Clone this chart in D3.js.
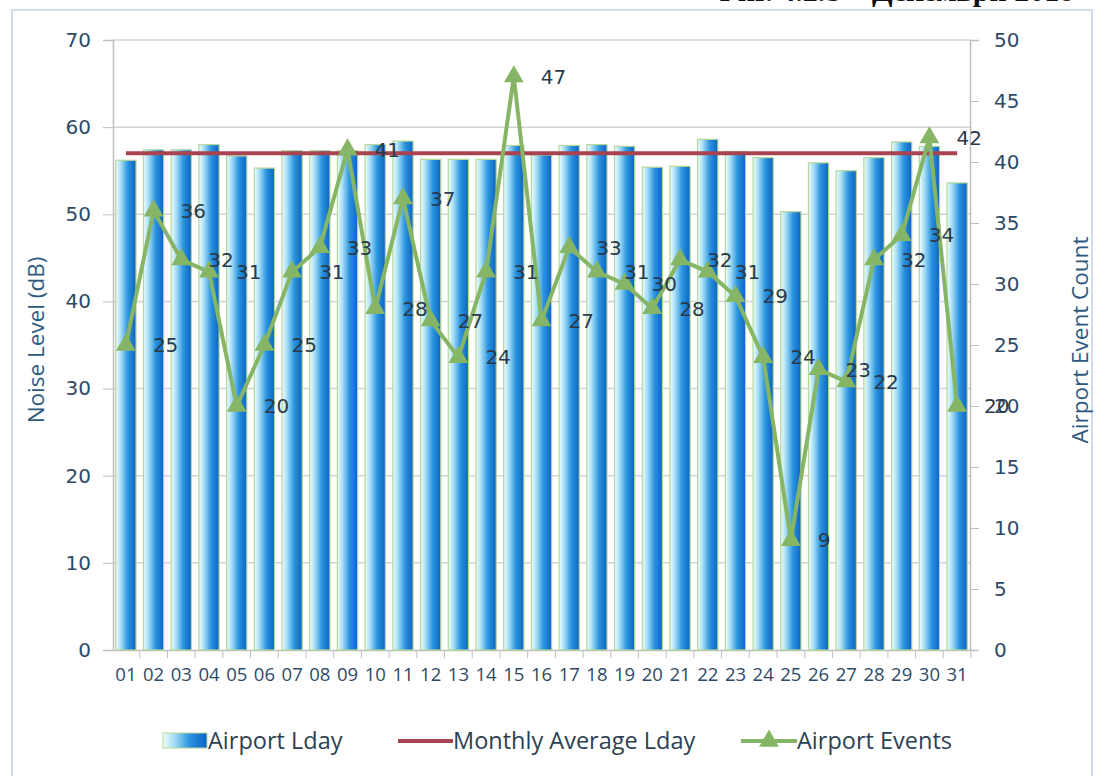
<!DOCTYPE html>
<html>
<head>
<meta charset="utf-8">
<script src="https://cdn.jsdelivr.net/npm/d3@7"></script>
<style>
  body { margin: 0; background: #fff; }
  svg { display: block; }
</style>
</head>
<body>
<div id="chart"></div>
<script>
// days of the month
const days = ["01","02","03","04","05","06","07","08","09","10","11","12","13","14","15","16",
              "17","18","19","20","21","22","23","24","25","26","27","28","29","30","31"];

// Airport Lday (dB), left axis
const lday = [56.2, 57.4, 57.4, 58.0, 56.7, 55.3, 57.3, 57.3, 57.3, 58.0, 58.4, 56.3, 56.3, 56.3, 57.9, 56.8,
              57.9, 58.0, 57.8, 55.4, 55.5, 58.6, 57.2, 56.5, 50.3, 55.9, 55.0, 56.5, 58.3, 57.8, 53.6];

// monthly average Lday (dB)
const monthlyAvg = 57.0;

// airport events, right axis
const events = [25, 36, 32, 31, 20, 25, 31, 33, 41, 28, 37, 27, 24, 31, 47, 27,
                33, 31, 30, 28, 32, 31, 29, 24, 9, 23, 22, 32, 34, 42, 20];

const leftTicks = [0, 10, 20, 30, 40, 50, 60, 70];
const rightTicks = [0, 5, 10, 15, 20, 25, 30, 35, 40, 45, 50];

const W = 1098, H = 776;
const margin = { top: 40, right: 128, bottom: 126, left: 113 };
const width = W - margin.left - margin.right;
const height = H - margin.top - margin.bottom;

const svg = d3.select("#chart").append("svg")
    .attr("width", W)
    .attr("height", H);

// gradient for the bars
const defs = svg.append("defs");
const grad = defs.append("linearGradient")
    .attr("id", "barGrad")
    .attr("x1", "0%").attr("x2", "100%").attr("y1", "0%").attr("y2", "0%");
grad.append("stop").attr("offset", "0%").attr("stop-color", "#f2fdff");
grad.append("stop").attr("offset", "25%").attr("stop-color", "#a6def6");
grad.append("stop").attr("offset", "60%").attr("stop-color", "#2b94df");
grad.append("stop").attr("offset", "100%").attr("stop-color", "#0c63c2");

// outer frame
svg.append("rect")
    .attr("x", 12).attr("y", 10)
    .attr("width", 1080).attr("height", 790)
    .attr("fill", "none")
    .attr("stroke", "#c3d2e2")
    .attr("stroke-width", 1.5);

// figure caption, cut by the top edge
svg.append("text")
    .attr("x", 712)
    .attr("y", 1)
    .attr("font-family", "'Liberation Serif', serif")
    .attr("font-weight", "bold")
    .attr("font-size", 30)
    .attr("fill", "#111")
    .text("Фиг. 4.2.b – Декември 2018");

const g = svg.append("g")
    .attr("transform", "translate(" + margin.left + "," + margin.top + ")");

// scales
const x = d3.scaleBand()
    .domain(days)
    .range([0, width])
    .paddingInner(0.27)
    .paddingOuter(0.1);

const yL = d3.scaleLinear().domain([0, 70]).range([height, 0]);
const yR = d3.scaleLinear().domain([0, 50]).range([height, 0]);

const tickColor = "#2d4a66";
const numFont = "'DejaVu Sans', sans-serif";
const textFont = "'Open Sans', sans-serif";

// gridlines
g.append("g")
    .selectAll("line")
    .data(leftTicks.filter(d => d > 0))
    .enter().append("line")
    .attr("x1", 0).attr("x2", width)
    .attr("y1", d => yL(d)).attr("y2", d => yL(d))
    .attr("stroke", "#d4d4d4")
    .attr("stroke-width", 1.5);

// left axis
const yAxisL = g.append("g")
    .call(d3.axisLeft(yL).tickValues(leftTicks).tickSize(10).tickPadding(12));
yAxisL.select(".domain").attr("stroke", "#bfbfbf").attr("stroke-width", 1.5);
yAxisL.selectAll(".tick line").attr("stroke", "#bfbfbf");
yAxisL.selectAll("text")
    .attr("font-family", numFont)
    .attr("font-size", 20)
    .attr("fill", tickColor);

// right axis
const yAxisR = g.append("g")
    .attr("transform", "translate(" + width + ",0)")
    .call(d3.axisRight(yR).tickValues(rightTicks).tickSize(9).tickPadding(15));
yAxisR.select(".domain").attr("stroke", "#bfbfbf").attr("stroke-width", 1.5);
yAxisR.selectAll(".tick line").attr("stroke", "#bfbfbf");
yAxisR.selectAll("text")
    .attr("font-family", numFont)
    .attr("font-size", 20)
    .attr("fill", tickColor);

// x axis, labels only
const xAxis = g.append("g")
    .attr("transform", "translate(0," + height + ")")
    .call(d3.axisBottom(x).tickSize(0).tickPadding(18));
xAxis.select(".domain").attr("stroke", "#bfbfbf").attr("stroke-width", 1.5);
xAxis.selectAll("text")
    .attr("font-family", textFont)
    .attr("font-size", 18.5)
    .attr("fill", tickColor);

// boundary tick marks between days
const gap = x.step() - x.bandwidth();
g.append("g")
    .selectAll("line")
    .data(days)
    .enter().append("line")
    .attr("x1", d => x(d) + x.bandwidth() + gap / 2)
    .attr("x2", d => x(d) + x.bandwidth() + gap / 2)
    .attr("y1", height).attr("y2", height + 8)
    .attr("stroke", "#bfbfbf");

// bars
g.append("g")
    .selectAll("rect")
    .data(days)
    .enter().append("rect")
    .attr("x", d => x(d))
    .attr("y", (d, i) => yL(lday[i]))
    .attr("width", x.bandwidth())
    .attr("height", (d, i) => height - yL(lday[i]))
    .attr("fill", "url(#barGrad)")
    .attr("stroke", "#b3d89a")
    .attr("stroke-width", 1.2);

// monthly average line
const cx = d => x(d) + x.bandwidth() / 2;
g.append("line")
    .attr("x1", cx(days[0]))
    .attr("x2", cx(days[days.length - 1]))
    .attr("y1", yL(monthlyAvg))
    .attr("y2", yL(monthlyAvg))
    .attr("stroke", "#a9434f")
    .attr("stroke-width", 4);

// events line
const green = "#86b665";
const line = d3.line()
    .x((d, i) => cx(days[i]))
    .y(d => yR(d));

g.append("path")
    .datum(events)
    .attr("d", line)
    .attr("fill", "none")
    .attr("stroke", green)
    .attr("stroke-width", 4)
    .attr("stroke-linejoin", "miter");

const tri = d3.symbol().type(d3.symbolTriangle).size(170);
g.append("g")
    .selectAll("path")
    .data(events)
    .enter().append("path")
    .attr("d", tri)
    .attr("transform", (d, i) => "translate(" + cx(days[i]) + "," + yR(d) + ")")
    .attr("fill", green);

// data labels
g.append("g")
    .selectAll("text")
    .data(events)
    .enter().append("text")
    .attr("x", (d, i) => cx(days[i]) + 27)
    .attr("y", d => yR(d))
    .attr("dy", "0.36em")
    .attr("font-family", numFont)
    .attr("font-size", 20)
    .attr("fill", "#2a3a4c")
    .text(d => d);

// axis titles
svg.append("text")
    .attr("transform", "translate(44,340) rotate(-90)")
    .attr("text-anchor", "middle")
    .attr("font-family", textFont)
    .attr("font-size", 22.5)
    .attr("fill", "#2e5a80")
    .text("Noise Level (dB)");

svg.append("text")
    .attr("transform", "translate(1088,340) rotate(-90)")
    .attr("text-anchor", "middle")
    .attr("font-family", textFont)
    .attr("font-size", 22.5)
    .attr("fill", "#2e5a80")
    .text("Airport Event Count");

// legend
const legend = svg.append("g").attr("transform", "translate(0,741)");
const legendFont = 23.5;

legend.append("rect")
    .attr("x", 163).attr("y", -8)
    .attr("width", 44).attr("height", 15)
    .attr("fill", "url(#barGrad)")
    .attr("stroke", "#b3d89a");
legend.append("text")
    .attr("x", 208).attr("y", 0).attr("dy", "0.35em")
    .attr("font-family", textFont).attr("font-size", legendFont)
    .attr("fill", "#2d3f52")
    .text("Airport Lday");

legend.append("line")
    .attr("x1", 398).attr("x2", 453)
    .attr("y1", 0).attr("y2", 0)
    .attr("stroke", "#a9434f").attr("stroke-width", 4);
legend.append("text")
    .attr("x", 453).attr("y", 0).attr("dy", "0.35em")
    .attr("font-family", textFont).attr("font-size", legendFont)
    .attr("fill", "#2d3f52")
    .text("Monthly Average Lday");

legend.append("line")
    .attr("x1", 741).attr("x2", 797)
    .attr("y1", 0).attr("y2", 0)
    .attr("stroke", green).attr("stroke-width", 4);
legend.append("path")
    .attr("d", tri)
    .attr("transform", "translate(769,0)")
    .attr("fill", green);
legend.append("text")
    .attr("x", 797).attr("y", 0).attr("dy", "0.35em")
    .attr("font-family", textFont).attr("font-size", legendFont)
    .attr("fill", "#2d3f52")
    .text("Airport Events");
</script>
</body>
</html>
